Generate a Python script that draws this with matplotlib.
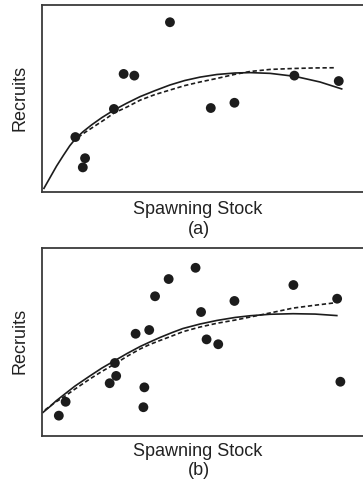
import matplotlib
matplotlib.use("Agg")
import matplotlib.pyplot as plt

plt.rcParams['font.family'] = ['Liberation Sans', 'DejaVu Sans']

# Panel (a): observed stock / recruit pairs
stock_a = [39.4, 25.1, 28.4, 22.1, 10.2, 13.2, 12.5, 52.0, 59.3, 77.8, 91.5]
recruits_a = [90.8, 63.2, 62.3, 44.5, 29.5, 18.2, 13.3, 45.0, 47.8, 62.3, 59.4]

# Panel (a): fitted curves (dome-shaped solid, asymptotic dashed)
fit1_x_a = [0.5, 2.4, 4.4, 6.5, 8.5, 10.4, 12.6, 15.3, 18.4, 22.1, 26.1, 30.2,
            34.8, 39.4, 44.0, 48.7, 53.9, 59.5, 64.1, 70.3, 78.0, 85.7, 92.4]
fit1_y_a = [2.1, 7.9, 14.0, 19.7, 24.9, 28.9, 32.4, 36.1, 39.9, 43.9, 47.6, 51.1,
            54.3, 57.3, 59.7, 61.5, 62.9, 63.7, 63.9, 63.5, 61.9, 58.9, 55.2]
fit2_x_a = [11.0, 13.2, 16.3, 19.4, 22.1, 26.1, 30.2, 34.8, 39.4, 44.0, 48.7,
            53.9, 59.5, 64.1, 70.3, 77.4, 84.2, 90.3]
fit2_y_a = [29.3, 32.0, 35.5, 39.0, 42.3, 45.5, 49.2, 52.2, 54.6, 57.0, 58.9,
            60.8, 63.0, 64.5, 65.6, 66.1, 66.4, 66.5]

# Panel (b): observed stock / recruit pairs
stock_b = [5.1, 7.2, 20.8, 22.8, 22.4, 28.8, 33.0, 34.8, 39.0, 47.3,
           49.0, 50.7, 54.3, 59.3, 31.5, 31.2, 77.5, 91.0, 92.0]
recruits_b = [10.7, 18.1, 28.0, 31.9, 38.8, 54.4, 56.4, 74.4, 83.6, 89.6,
              66.0, 51.4, 48.8, 71.9, 25.8, 15.2, 80.4, 73.1, 28.8]

# Panel (b): fitted curves
fit1_x_b = [0.2, 2.4, 4.2, 6.4, 10.1, 14.7, 18.4, 22.4, 26.1, 30.2, 33.2,
            36.3, 40.0, 43.4, 48.7, 53.9, 59.5, 64.1, 70.3, 77.4, 84.2, 90.9]
fit1_y_b = [12.4, 15.6, 18.5, 21.5, 26.5, 31.9, 36.1, 40.1, 43.8, 47.6, 50.0,
            52.4, 55.0, 57.2, 59.6, 61.5, 63.1, 64.0, 64.8, 65.1, 64.9, 64.1]
fit2_x_b = [0.8, 3.9, 6.4, 10.1, 14.7, 18.4, 22.4, 26.1, 30.2, 33.2, 36.3,
            40.0, 43.4, 48.7, 53.9, 59.5, 64.1, 70.3, 77.4, 83.6, 89.8]
fit2_y_b = [13.7, 17.7, 20.4, 24.9, 30.3, 34.3, 38.3, 42.3, 46.3, 48.7, 50.8,
            53.2, 55.5, 58.0, 60.0, 61.7, 63.3, 65.5, 68.1, 69.5, 70.8]

W, H = 363, 489
fig = plt.figure(figsize=(W / 100, H / 100), dpi=100)

ink = '#1c1c1c'
frame = '#3a3a3a'
text_color = '#222222'


def panel(rect, sx, sy, f1x, f1y, f2x, f2y, tag, label_y, tag_y, ylab_y):
    ax = fig.add_axes(rect)
    ax.plot(f1x, f1y, color=ink, lw=1.2, solid_joinstyle='round', zorder=2)
    ax.plot(f2x, f2y, color=ink, lw=1.2, dashes=(2.6, 1.6), zorder=2)
    ax.scatter(sx, sy, s=50, color=ink, edgecolors='none', zorder=3)
    ax.set_xlim(0, 100)
    ax.set_ylim(0, 100)
    ax.set_xticks([])
    ax.set_yticks([])
    for sp in ax.spines.values():
        sp.set_color(frame)
        sp.set_linewidth(1.3)
    fig.text(19.5 / W, 1 - ylab_y / H, 'Recruits', fontsize=13, rotation=90,
             color=text_color, ha='center', va='center')
    fig.text(198 / W, 1 - label_y / H, 'Spawning Stock', fontsize=13,
             color=text_color, ha='center', va='center')
    fig.text(199 / W, 1 - tag_y / H, tag, fontsize=13,
             color=text_color, ha='center', va='center')
    return ax


left = 42.3 / W
width = 324 / W
panel([left, 1 - 193.3 / H, width, 187.3 / H], stock_a, recruits_a,
      fit1_x_a, fit1_y_a, fit2_x_a, fit2_y_a, '(a)', 210, 229, 98)
panel([left, 1 - 436.7 / H, width, 187.4 / H], stock_b, recruits_b,
      fit1_x_b, fit1_y_b, fit2_x_b, fit2_y_b, '(b)', 452, 471, 341)

fig.savefig('out.png', dpi=100)
